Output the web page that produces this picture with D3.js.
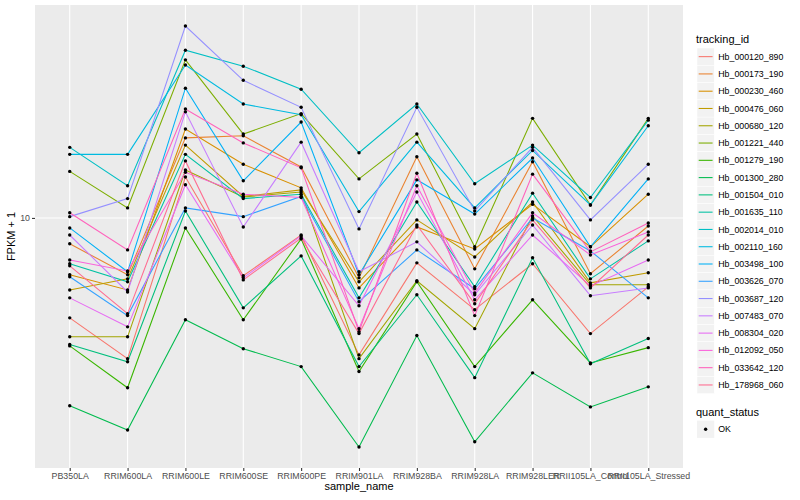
<!DOCTYPE html>
<html>
<head>
<meta charset="utf-8">
<script src="https://cdn.jsdelivr.net/npm/d3@7"></script>
<style>
  body { margin: 0; background: #fff; }
  svg { display: block; font-family: "Liberation Sans", Arial, sans-serif; }
</style>
</head>
<body>
<svg id="chart"></svg>
<script>
// samples on the x axis
const samples = ["PB350LA", "RRIM600LA", "RRIM600LE", "RRIM600SE", "RRIM600PE", "RRIM901LA",
  "RRIM928BA", "RRIM928LA", "RRIM928LER", "RRII105LA_Control", "RRII105LA_Stressed"];

const trackingIds = ["Hb_000120_890", "Hb_000173_190", "Hb_000230_460", "Hb_000476_060", "Hb_000680_120",
  "Hb_001221_440", "Hb_001279_190", "Hb_001300_280", "Hb_001504_010", "Hb_001635_110",
  "Hb_002014_010", "Hb_002110_160", "Hb_003498_100", "Hb_003626_070", "Hb_003687_120",
  "Hb_007483_070", "Hb_008304_020", "Hb_012092_050", "Hb_033642_120", "Hb_178968_060"];

// FPKM + 1, one value per sample
const hb_000120_890 = [4.64, 3.39, 13.7, 6.41, 8.77, 3.49, 7.08, 4.94, 7.03, 4.11, 5.89];
const hb_000173_190 = [8.20, 6.46, 18.5, 18.8, 14.8, 6.31, 16.0, 6.76, 15.4, 6.51, 9.40];
const hb_000230_460 = [6.46, 5.75, 19.8, 15.1, 12.6, 5.84, 9.33, 7.88, 11.1, 8.01, 12.0];
const hb_000476_060 = [5.75, 6.26, 17.5, 11.8, 12.4, 6.12, 9.85, 7.41, 11.3, 6.07, 6.56];
const hb_000680_120 = [4.01, 4.01, 14.45, 11.75, 12.2, 3.39, 6.17, 4.27, 10.15, 5.98, 5.98];
const hb_001221_440 = [14.3, 10.8, 33.7, 19.05, 22.3, 13.5, 19.05, 8.01, 21.5, 11.05, 21.5];
const hb_001279_190 = [3.74, 2.71, 9.26, 4.57, 8.51, 3.07, 6.12, 3.19, 5.33, 3.28, 3.69];
const hb_001300_280 = [2.36, 1.96, 4.57, 3.66, 3.19, 1.72, 4.05, 1.79, 3.04, 2.34, 2.73];
const hb_001504_010 = [3.78, 3.31, 10.55, 5.01, 7.47, 3.19, 5.54, 2.93, 7.36, 3.26, 3.96];
const hb_001635_110 = [7.03, 6.12, 16.3, 11.6, 12.0, 5.41, 11.3, 5.89, 12.1, 6.26, 8.38];
const hb_002014_010 = [17.2, 12.8, 36.3, 32.1, 26.9, 16.5, 24.0, 13.0, 17.5, 11.7, 21.2];
const hb_002110_160 = [16.3, 16.3, 32.4, 24.0, 22.1, 10.5, 17.9, 10.8, 16.8, 11.05, 20.3];
const hb_003498_100 = [9.26, 6.61, 27.1, 13.3, 20.9, 6.46, 13.4, 10.3, 15.85, 8.01, 13.5];
const hb_003626_070 = [6.36, 4.72, 10.8, 10.1, 11.8, 5.25, 7.82, 5.80, 10.0, 7.76, 5.41];
const hb_003687_120 = [10.1, 11.6, 43.7, 28.8, 23.4, 9.19, 23.4, 10.55, 17.2, 9.85, 15.1];
const hb_007483_070 = [8.77, 5.66, 22.6, 9.33, 17.9, 6.61, 8.32, 5.54, 9.47, 5.50, 5.84];
const hb_008304_020 = [5.41, 4.33, 12.9, 6.31, 8.71, 5.09, 12.2, 5.33, 8.77, 5.93, 7.24];
const hb_012092_050 = [7.24, 6.65, 14.2, 12.0, 11.7, 4.27, 12.8, 5.62, 10.4, 7.52, 8.98];
const hb_033642_120 = [10.4, 7.82, 23.1, 17.8, 14.7, 4.17, 14.1, 4.72, 14.0, 7.70, 9.62];
const hb_178968_060 = [6.92, 4.79, 15.5, 6.21, 8.57, 4.11, 9.47, 5.17, 9.85, 5.84, 8.77];

const seriesValues = [hb_000120_890, hb_000173_190, hb_000230_460, hb_000476_060, hb_000680_120,
  hb_001221_440, hb_001279_190, hb_001300_280, hb_001504_010, hb_001635_110,
  hb_002014_010, hb_002110_160, hb_003498_100, hb_003626_070, hb_003687_120,
  hb_007483_070, hb_008304_020, hb_012092_050, hb_033642_120, hb_178968_060];

const quantStatus = ["OK"];
const yTickValues = [10];

// ggplot default hue palette for 20 groups
const palette = ["#F8766D", "#EA8331", "#D89000", "#C09B00", "#A3A500", "#7CAE00", "#39B600", "#00BB4E",
  "#00BF7D", "#00C1A3", "#00BFC4", "#00BAE0", "#00B0F6", "#35A2FF", "#9590FF", "#C77CFF",
  "#E76BF3", "#FA62DB", "#FF62BC", "#FF6C91"];

const width = 800, height = 500;
const panel = {left: 35, right: 683, top: 5, bottom: 468};

const svg = d3.select("#chart").attr("width", width).attr("height", height);
svg.append("rect").attr("width", width).attr("height", height).attr("fill", "#fff");

const x = d3.scalePoint().domain(samples).range([panel.left, panel.right]).padding(0.6);

// log scale with ggplot's 5% expansion in log space
const logExtent = d3.extent(seriesValues.flat(), d => Math.log10(d));
const pad = (logExtent[1] - logExtent[0]) * 0.05;
const y = d3.scaleLog()
  .domain([Math.pow(10, logExtent[0] - pad), Math.pow(10, logExtent[1] + pad)])
  .range([panel.bottom, panel.top]);

const color = d3.scaleOrdinal().domain(trackingIds).range(palette);

// panel background and grid
svg.append("rect")
  .attr("x", panel.left).attr("y", panel.top)
  .attr("width", panel.right - panel.left).attr("height", panel.bottom - panel.top)
  .attr("fill", "#EBEBEB");

const grid = svg.append("g");
grid.selectAll("line.v").data(samples).enter().append("line")
  .attr("x1", d => x(d)).attr("x2", d => x(d))
  .attr("y1", panel.top).attr("y2", panel.bottom)
  .attr("stroke", "#fff").attr("stroke-width", 1.07);
grid.selectAll("line.h").data(yTickValues).enter().append("line")
  .attr("x1", panel.left).attr("x2", panel.right)
  .attr("y1", d => y(d)).attr("y2", d => y(d))
  .attr("stroke", "#fff").attr("stroke-width", 1.07);

// lines
const line = d3.line().x((d, i) => x(samples[i])).y(d => y(d));
svg.append("g").selectAll("path").data(seriesValues).enter().append("path")
  .attr("d", line)
  .attr("fill", "none")
  .attr("stroke", (d, i) => color(trackingIds[i]))
  .attr("stroke-width", 1.07);

// points
const pts = svg.append("g");
seriesValues.forEach(vals => {
  pts.selectAll(null).data(vals).enter().append("circle")
    .attr("cx", (d, i) => x(samples[i]))
    .attr("cy", d => y(d))
    .attr("r", 1.7)
    .attr("fill", "#000");
});

// axes
const xAxis = svg.append("g")
  .attr("transform", `translate(0,${panel.bottom})`)
  .call(d3.axisBottom(x).tickSize(3).tickPadding(2));
const yAxis = svg.append("g")
  .attr("transform", `translate(${panel.left},0)`)
  .call(d3.axisLeft(y).tickValues(yTickValues).tickFormat(d3.format("d")).tickSize(3).tickPadding(2));

[xAxis, yAxis].forEach(a => {
  a.select(".domain").remove();
  a.selectAll("line").attr("stroke", "#333333").attr("stroke-width", 1.07);
  a.selectAll("text").attr("fill", "#4D4D4D").style("font-size", "8.8px")
    .style("font-family", "'Liberation Sans', Arial, sans-serif");
});

svg.append("text")
  .attr("x", (panel.left + panel.right) / 2).attr("y", 490)
  .attr("text-anchor", "middle").style("font-size", "11px").attr("fill", "#000")
  .text("sample_name");
svg.append("text")
  .attr("transform", `translate(15,${(panel.top + panel.bottom) / 2}) rotate(-90)`)
  .attr("text-anchor", "middle").style("font-size", "11px").attr("fill", "#000")
  .text("FPKM + 1");

// legend: tracking_id
const legend = svg.append("g").attr("transform", "translate(697,0)");
const keySize = 17.28;
const keyTop = 48;
legend.append("text").attr("x", -1).attr("y", 43).style("font-size", "11px").text("tracking_id");
const keys = legend.selectAll("g.key").data(trackingIds).enter().append("g")
  .attr("transform", (d, i) => `translate(0,${keyTop + i * keySize})`);
keys.append("rect").attr("width", keySize).attr("height", keySize).attr("fill", "#F2F2F2")
  .attr("stroke", "#fff").attr("stroke-width", 0.5);
keys.append("line").attr("x1", 1.7).attr("x2", keySize - 1.7)
  .attr("y1", keySize / 2).attr("y2", keySize / 2)
  .attr("stroke", d => color(d)).attr("stroke-width", 1.07);
keys.append("text").attr("x", keySize + 4).attr("y", keySize / 2 + 3.1)
  .style("font-size", "8.8px").attr("fill", "#000").text(d => d);

// legend: quant_status
const qTop = keyTop + trackingIds.length * keySize + 11;
legend.append("text").attr("x", -1).attr("y", qTop + 11).style("font-size", "11px").text("quant_status");
const qKeys = legend.selectAll("g.qkey").data(quantStatus).enter().append("g")
  .attr("transform", (d, i) => `translate(0,${qTop + 16 + i * keySize})`);
qKeys.append("rect").attr("width", keySize).attr("height", keySize).attr("fill", "#F2F2F2");
qKeys.append("circle").attr("cx", keySize / 2).attr("cy", keySize / 2).attr("r", 1.7).attr("fill", "#000");
qKeys.append("text").attr("x", keySize + 4).attr("y", keySize / 2 + 3.1)
  .style("font-size", "8.8px").attr("fill", "#000").text(d => d);
</script>
</body>
</html>
